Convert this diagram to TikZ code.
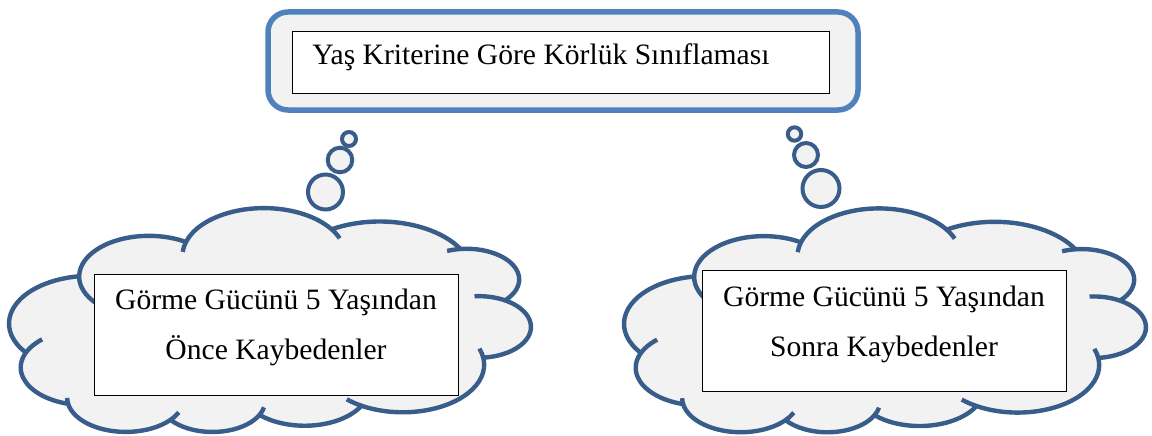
\documentclass[tikz,border=0pt]{standalone}
\usepackage{fontspec}
\setmainfont{Liberation Serif}
\usetikzlibrary{positioning}
\definecolor{cloudblue}{RGB}{56,93,138}
\definecolor{frameblue}{RGB}{79,129,189}
\definecolor{shapegray}{RGB}{242,242,242}
\tikzset{%
  cloudline/.style  = {draw=cloudblue, line width=4.4pt, line join=round, fill=shapegray},%
  cloudstub/.style  = {draw=cloudblue, line width=4.4pt},%
  bubble/.style     = {circle, draw=cloudblue, line width=4pt, fill=shapegray, inner sep=0pt},%
  titleframe/.style = {rectangle, rounded corners=20pt, draw=frameblue, line width=5.5pt, fill=shapegray},%
  textbox/.style    = {rectangle, draw=black, line width=0.9pt, fill=white},%
  boxtext/.style    = {font=\fontsize{29.6}{35}\selectfont, inner sep=0pt}%
}
% cloud outline (office cloud, turned upside down); #1,#2 = lower right corner
\newcommand{\thoughtcloud}[2]{%
  \begin{scope}[shift={(#1,#2)}, x={(-1.2067pt,0pt)}, y={(0pt,0.518pt)}]
    \draw[cloudline] (39.00,143.70)
      arc[x radius=67.53, y radius=91.90,  start angle=-187.74, end angle=-59.64]
      arc[x radius=53.33, y radius=72.67,  start angle=-152.03, end angle=-45.45]
      arc[x radius=43.65, y radius=59.45,  start angle=-153.49, end angle=-37.33]
      arc[x radius=48.57, y radius=65.95,  start angle=-139.71, end angle=-10.21]
      arc[x radius=53.33, y radius=72.73,  start angle=-74.77,  end angle=23.21]
      arc[x radius=67.75, y radius=92.20,  start angle=-37.52,  end angle=81.86]
      arc[x radius=57.85, y radius=78.67,  start angle=0.46,    end angle=121.98]
      arc[x radius=67.52, y radius=92.15,  start angle=16.85,   end angle=146.22]
      arc[x radius=77.20, y radius=105.43, start angle=58.98,   end angle=150.20]
      arc[x radius=43.60, y radius=59.18,  start angle=-276.69, end angle=-136.91]
      arc[x radius=43.45, y radius=59.45,  start angle=-239.66, end angle=-95.88]
      -- cycle;
    % inner strokes of the bumps
    \draw[cloudstub] (39.00,143.70)  arc[x radius=67.53, y radius=91.90, start angle=-187.74, delta angle=-12];
    \draw[cloudstub] (140.05,52.03)  arc[x radius=67.53, y radius=91.90, start angle=-59.64,  delta angle=13];
    \draw[cloudstub] (224.56,34.32)  arc[x radius=43.65, y radius=59.45, start angle=-153.49, delta angle=-15];
    \draw[cloudstub] (298.33,24.81)  arc[x radius=48.57, y radius=65.95, start angle=-139.71, delta angle=-15];
    \draw[cloudstub] (383.18,55.76)  arc[x radius=48.57, y radius=65.95, start angle=-10.21,  delta angle=10];
    \draw[cloudstub] (418.19,154.60) arc[x radius=53.33, y radius=72.73, start angle=23.21,   delta angle=25];
    \draw[cloudstub] (374.04,302.01) arc[x radius=57.85, y radius=78.67, start angle=0.46,    delta angle=-42];
    \draw[cloudstub] (285.55,368.11) arc[x radius=67.52, y radius=92.15, start angle=16.85,   delta angle=-12.1];
    \draw[cloudstub] (164.80,392.62) arc[x radius=67.52, y radius=92.15, start angle=146.22,  delta angle=12.25];
    \draw[cloudstub] (58.01,354.68)  arc[x radius=43.60, y radius=59.18, start angle=-276.69, delta angle=-15.08];
    \draw[cloudstub] (21.09,255.48)  arc[x radius=43.45, y radius=59.45, start angle=-239.66, delta angle=-34.79];
  \end{scope}}

\begin{document}
\begin{tikzpicture}[x=1pt,y=-1pt]
	\useasboundingbox (0,0) rectangle (1152,436);
	% top box
	\node[titleframe, minimum width=590pt, minimum height=98pt] (frame) at (563,61) {};
	\node[textbox, minimum width=537pt, minimum height=62pt] (topbox) at (560.5,62) {};
	\node[boxtext, anchor=base west] (title) at ([shift={(20.5,34)}]topbox.north west)
		{Yaş Kriterine Göre Körlük Sınıflaması};
	% clouds
	\thoughtcloud{530.5}{432.7}
	\thoughtcloud{1145.5}{433}
	% bubbles
	\node[bubble, minimum size=14pt] (lsmall) at (349,139) {};
	\node[bubble, minimum size=24.6pt] (lmid) at (340,160) {};
	\node[bubble, minimum size=35pt] (lbig) at (325.5,192) {};
	\node[bubble, minimum size=13.4pt] (rsmall) at (794.5,134) {};
	\node[bubble, minimum size=24pt] (rmid) at (806,155) {};
	\node[bubble, minimum size=37pt] (rbig) at (821,188.5) {};
	% boxes in the clouds
	\node[textbox, minimum width=364pt, minimum height=121pt] (leftbox) at (276,334.5) {};
	\node[boxtext, anchor=base] (left1) at ([yshift=-36pt]leftbox.north) {Görme Gücünü 5 Yaşından};
	\node[boxtext, anchor=base] (left2) at ([yshift=-50pt]left1.base) {Önce Kaybedenler};
	\node[textbox, minimum width=364pt, minimum height=121pt] (rightbox) at (884,330.5) {};
	\node[boxtext, anchor=base] (right1) at ([yshift=-36.5pt]rightbox.north) {Görme Gücünü 5 Yaşından};
	\node[boxtext, anchor=base] (right2) at ([yshift=-50pt]right1.base) {Sonra Kaybedenler};
\end{tikzpicture}
\end{document}
